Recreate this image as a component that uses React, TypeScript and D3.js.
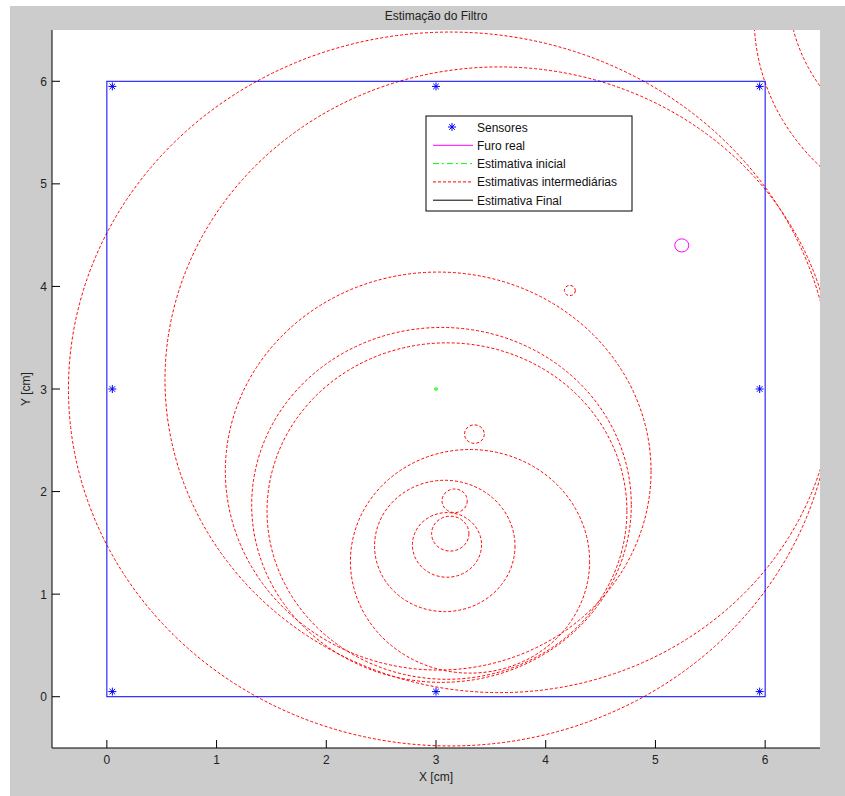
import React from "react";
import * as d3 from "d3";

const sensorX = [0.05, 3, 5.95, 0.05, 5.95, 0.05, 3, 5.95];
const sensorY = [5.95, 5.95, 5.95, 3, 3, 0.05, 0.05, 0.05];

const realX = [5.24];
const realY = [4.4];
const realR = [0.064];

const initX = [3.0];
const initY = [3.0];
const initR = [0.012];

const estX = [3.13, 3.58, 7.95, 7.9, 3.02, 3.05, 3.1, 3.31, 3.08, 3.1, 3.13, 3.17, 3.35, 4.22];
const estY = [3.0, 3.09, 6.62, 6.9, 2.2, 1.87, 1.81, 1.32, 1.47, 1.48, 1.59, 1.91, 2.56, 3.96];
const estR = [3.48, 3.05, 2.05, 1.69, 1.94, 1.73, 1.64, 1.09, 0.64, 0.315, 0.17, 0.115, 0.09, 0.05];

const xTicks = [0, 1, 2, 3, 4, 5, 6];
const yTicks = [0, 1, 2, 3, 4, 5, 6];

const legendLabels = ["Sensores", "Furo real", "Estimativa inicial", "Estimativas intermediárias", "Estimativa Final"];

const W = 845;
const H = 796;
const L = 52, R = 820, T = 30, B = 748;
const FONT = "Arial, 'Liberation Sans', Helvetica, sans-serif";

export default function App() {
  const x = d3.scaleLinear().domain([-0.5, 6.5]).range([L, R]);
  const y = d3.scaleLinear().domain([-0.5, 6.5]).range([B, T]);
  const rx = (r: number) => x(r) - x(0);
  const ry = (r: number) => y(0) - y(r);

  const star = (cx: number, cy: number, s: number, key: string) => (
    <g key={key} stroke="#0000ff" strokeWidth={1}>
      <line x1={cx - s} y1={cy} x2={cx + s} y2={cy} />
      <line x1={cx} y1={cy - s} x2={cx} y2={cy + s} />
      <line x1={cx - s * 0.7} y1={cy - s * 0.7} x2={cx + s * 0.7} y2={cy + s * 0.7} />
      <line x1={cx - s * 0.7} y1={cy + s * 0.7} x2={cx + s * 0.7} y2={cy - s * 0.7} />
    </g>
  );

  const legX = 426, legY = 116, legW = 206, legH = 95;
  const rowY = (i: number) => legY + 11 + i * 18.3;

  return (
    <svg width={W} height={H} style={{ position: "absolute", left: 0, top: 0 }} fontFamily={FONT}>
      <rect x={0} y={0} width={W} height={H} fill="#ffffff" />
      <rect x={10} y={6} width={W - 10} height={H - 6} fill="#cccccc" />
      <rect x={L} y={T} width={R - L} height={B - T} fill="#ffffff" />
      <defs>
        <clipPath id="plotclip">
          <rect x={L} y={T} width={R - L} height={B - T} />
        </clipPath>
      </defs>
      <g clipPath="url(#plotclip)">
        {estX.map((cx, i) => (
          <ellipse key={"e" + i} cx={x(cx)} cy={y(estY[i])} rx={rx(estR[i])} ry={ry(estR[i])}
            fill="none" stroke="#ff0000" strokeWidth={1} strokeDasharray="3,2" />
        ))}
        <rect x={x(0)} y={y(6)} width={x(6) - x(0)} height={y(0) - y(6)} fill="none" stroke="#0000ff" strokeWidth={1} />
        {initX.map((cx, i) => (
          <ellipse key={"i" + i} cx={x(cx)} cy={y(initY[i])} rx={rx(initR[i])} ry={ry(initR[i])}
            fill="none" stroke="#00ff00" strokeWidth={1.2} />
        ))}
        {realX.map((cx, i) => (
          <ellipse key={"r" + i} cx={x(cx)} cy={y(realY[i])} rx={rx(realR[i])} ry={ry(realR[i])}
            fill="none" stroke="#ff00ff" strokeWidth={1} />
        ))}
        {sensorX.map((sx, i) => star(x(sx), y(sensorY[i]), 4, "s" + i))}
      </g>
      {/* axes */}
      <line x1={L} y1={T} x2={L} y2={B} stroke="#000" strokeWidth={1} />
      <line x1={L} y1={B} x2={R} y2={B} stroke="#000" strokeWidth={1} />
      {xTicks.map((t) => (
        <g key={"xt" + t}>
          <line x1={x(t)} y1={B} x2={x(t)} y2={B - 8} stroke="#000" />
          <text x={x(t)} y={B + 16} fontSize={12} textAnchor="middle" fill="#222">{t}</text>
        </g>
      ))}
      {yTicks.map((t) => (
        <g key={"yt" + t}>
          <line x1={L} y1={y(t)} x2={L + 8} y2={y(t)} stroke="#000" />
          <text x={L - 5} y={y(t) + 4.5} fontSize={12} textAnchor="end" fill="#222">{t}</text>
        </g>
      ))}
      <text x={(L + R) / 2} y={781} fontSize={12} textAnchor="middle" fill="#222">X [cm]</text>
      <text transform={`translate(30, ${(T + B) / 2}) rotate(-90)`} fontSize={12} textAnchor="middle" fill="#222">Y [cm]</text>
      <text x={(L + R) / 2} y={20} fontSize={12} textAnchor="middle" fill="#222">Estimação do Filtro</text>
      {/* legend */}
      <rect x={legX} y={legY} width={legW} height={legH} fill="#ffffff" stroke="#000" strokeWidth={1} />
      {legendLabels.map((lab, i) => (
        <text key={"l" + i} x={legX + 51} y={rowY(i) + 4.5} fontSize={12} fill="#111">{lab}</text>
      ))}
      {star(legX + 26, rowY(0), 4, "legstar")}
      <line x1={legX + 7} x2={legX + 47} y1={rowY(1)} y2={rowY(1)} stroke="#ff00ff" />
      <line x1={legX + 7} x2={legX + 47} y1={rowY(2)} y2={rowY(2)} stroke="#00ff00" strokeDasharray="6,3,2,3" />
      <line x1={legX + 7} x2={legX + 47} y1={rowY(3)} y2={rowY(3)} stroke="#ff0000" strokeDasharray="3,2" />
      <line x1={legX + 7} x2={legX + 47} y1={rowY(4)} y2={rowY(4)} stroke="#000000" />
    </svg>
  );
}
